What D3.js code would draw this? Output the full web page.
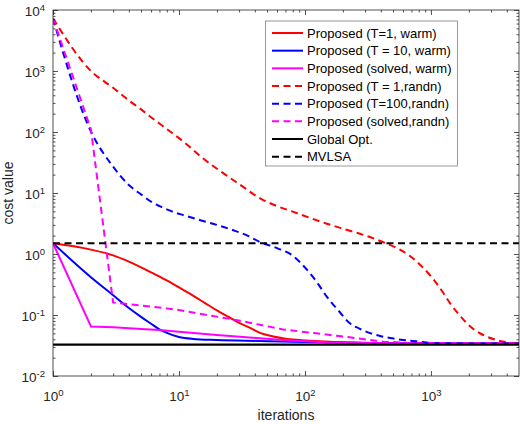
<!DOCTYPE html>
<html>
<head>
<meta charset="utf-8">
<script src="https://cdn.jsdelivr.net/npm/d3@7/dist/d3.min.js"></script>
<style>
  html, body { margin: 0; padding: 0; background: #fff; }
  svg { display: block; font-family: "Liberation Sans", Arial, Helvetica, sans-serif; }
</style>
</head>
<body>
<div id="chart"></div>
<script>
// ---------- data ----------
const xTickValues = [1, 10, 100, 1000];
const yTickValues = [0.01, 0.1, 1, 10, 100, 1000, 10000];
const xDomain = [1, 5000];
const yDomain = [0.01, 10000];

const seriesNames = [
  "Proposed (T=1, warm)",
  "Proposed (T = 10, warm)",
  "Proposed (solved, warm)",
  "Proposed (T = 1,randn)",
  "Proposed (T=100,randn)",
  "Proposed (solved,randn)",
  "Global Opt.",
  "MVLSA"
];

const iterRedWarm = [1,2,3,4,5,6,8,10,13,16,20,25,30,37,44,55,70,90,120,170,250,500,1000,5000];
const costRedWarm = [1.5,1.18,0.95,0.75,0.605,0.50,0.368,0.283,0.206,0.158,0.119,0.092,0.074,0.061,0.051,0.045,0.041,0.039,0.0375,0.0362,0.0353,0.0345,0.0342,0.034];

const iterBlueWarm = [1,2,3,4,5,6,7,8,10,13,20,44,100,300,1000,5000];
const costBlueWarm = [1.5,0.416,0.211,0.13,0.093,0.072,0.058,0.051,0.0435,0.0405,0.039,0.0375,0.036,0.0348,0.0342,0.034];

const iterMagWarm = [1,2,3,5,7,10,20,44,80,150,300,1000,5000];
const costMagWarm = [1.5,0.065,0.063,0.059,0.057,0.053,0.047,0.0416,0.038,0.0358,0.0348,0.0342,0.034];

const iterRedRandn = [1,2,3,4,5,6,8,11,15,20,30,44,60,81,110,149,200,273,350,445,560,680,850,1040,1220,1420,1650,1930,2250,2600,3300,4000,5000];
const costRedRandn = [7300,1000,530,330,235,175,112,68,39,25,14,8.2,6.1,4.9,3.9,3.14,2.6,2.15,1.8,1.48,1.2,0.93,0.62,0.39,0.25,0.155,0.105,0.073,0.056,0.047,0.039,0.0355,0.034];

const iterBlueRandn = [1,2,3,4,5,6,7,8,9,11,15,20,27,35,44,60,81,100,125,149,190,227,270,309,400,476,600,770,1100,5000];
const costBlueRandn = [7300,102,27,13.5,9.5,7.2,6.1,5.4,4.9,4.3,3.55,3.0,2.45,2.0,1.57,1.25,0.92,0.6,0.34,0.2,0.11,0.073,0.06,0.053,0.045,0.0418,0.039,0.037,0.0345,0.034];

const iterMagRandn = [1,2,3,4,5,6,8,10,15,20,30,44,67,123,227,418,770,5000];
const costMagRandn = [7300,110,0.16,0.15,0.143,0.137,0.128,0.121,0.104,0.094,0.081,0.069,0.058,0.05,0.043,0.0366,0.0344,0.034];

const globalOptValue = 0.0328;
const mvlsaValue = 1.5;

// ---------- layout ----------
const W = 520, H = 424;
const L = 53, R = 519, T = 10, B = 376;

const svg = d3.select("#chart").append("svg").attr("width", W).attr("height", H);

const x = d3.scaleLog().domain(xDomain).range([L, R]);
const y = d3.scaleLog().domain(yDomain).range([B, T]);

const axisColor = "#262626";

function minorTicks(domain) {
  const out = [];
  const lo = Math.floor(Math.log10(domain[0])), hi = Math.ceil(Math.log10(domain[1]));
  for (let e = lo; e <= hi; e++) {
    for (let k = 2; k <= 9; k++) {
      const v = k * Math.pow(10, e);
      if (v > domain[0] && v < domain[1]) out.push(v);
    }
  }
  return out;
}
const xMinor = minorTicks(xDomain);
const yMinor = minorTicks(yDomain);

// ---------- series ----------
const colors = ["#ff0000", "#0000ff", "#ff00ff", "#ff0000", "#0000ff", "#ff00ff", "#000000", "#000000"];
const dashed = [false, false, false, true, true, true, false, true];
const smooth = [true, true, false, true, true, false, false, false];
const dashArr = "7,4.5";

const series = [
  d3.zip(iterRedWarm, costRedWarm),
  d3.zip(iterBlueWarm, costBlueWarm),
  d3.zip(iterMagWarm, costMagWarm),
  d3.zip(iterRedRandn, costRedRandn),
  d3.zip(iterBlueRandn, costBlueRandn),
  d3.zip(iterMagRandn, costMagRandn),
  xDomain.map(v => [v, globalOptValue]),
  xDomain.map(v => [v, mvlsaValue])
];

svg.append("defs").append("clipPath").attr("id", "clip")
  .append("rect").attr("x", L).attr("y", T).attr("width", R - L).attr("height", B - T);

const gLines = svg.append("g").attr("clip-path", "url(#clip)");
series.forEach((s, i) => {
  const line = d3.line().x(d => x(d[0])).y(d => y(d[1]))
    .curve(smooth[i] ? d3.curveMonotoneX : d3.curveLinear);
  gLines.append("path")
    .attr("d", line(s))
    .attr("fill", "none")
    .attr("stroke", colors[i])
    .attr("stroke-width", i >= 6 ? 2.2 : 2)
    .attr("stroke-dasharray", dashed[i] ? dashArr : null)
    .attr("stroke-linejoin", "round");
});

// ---------- axes ----------
function tickAxis(gen, transform, values, size) {
  const g = svg.append("g").attr("transform", transform)
    .call(gen.tickValues(values).tickSize(size).tickFormat(""));
  g.select(".domain").remove();
  g.selectAll("line").attr("stroke", axisColor).attr("stroke-width", 0.8);
  return g;
}
tickAxis(d3.axisBottom(x), `translate(0,${B})`, xTickValues, -5);
tickAxis(d3.axisBottom(x), `translate(0,${B})`, xMinor, -2.5);
tickAxis(d3.axisTop(x), `translate(0,${T})`, xTickValues, -5);
tickAxis(d3.axisTop(x), `translate(0,${T})`, xMinor, -2.5);
tickAxis(d3.axisLeft(y), `translate(${L},0)`, yTickValues, -5);
tickAxis(d3.axisLeft(y), `translate(${L},0)`, yMinor, -2.5);
tickAxis(d3.axisRight(y), `translate(${R},0)`, yTickValues, -5);
tickAxis(d3.axisRight(y), `translate(${R},0)`, yMinor, -2.5);

svg.append("rect").attr("x", L).attr("y", T).attr("width", R - L).attr("height", B - T)
  .attr("fill", "none").attr("stroke", axisColor).attr("stroke-width", 0.8);

const xLab = svg.append("g").attr("transform", `translate(0,${B})`)
  .call(d3.axisBottom(x).tickValues(xTickValues).tickSize(0).tickFormat(""));
xLab.select(".domain").remove();
xLab.selectAll(".tick text").each(function(d) {
  const t = d3.select(this).attr("y", 25).attr("dy", null)
    .attr("fill", axisColor).attr("font-size", 13.5).attr("text-anchor", "middle")
    .attr("font-family", "Liberation Sans, Arial, sans-serif");
  t.append("tspan").text("10");
  t.append("tspan").attr("dy", -5.5).attr("font-size", 9.5).text(String(Math.round(Math.log10(d))));
});

const yLab = svg.append("g").attr("transform", `translate(${L},0)`)
  .call(d3.axisLeft(y).tickValues(yTickValues).tickSize(0).tickFormat(""));
yLab.select(".domain").remove();
yLab.selectAll(".tick text").each(function(d) {
  const t = d3.select(this).attr("x", -8).attr("dy", null).attr("y", 5.5)
    .attr("fill", axisColor).attr("font-size", 13.5).attr("text-anchor", "end")
    .attr("font-family", "Liberation Sans, Arial, sans-serif");
  t.append("tspan").text("10");
  t.append("tspan").attr("dy", -5.5).attr("font-size", 9.5).text(String(Math.round(Math.log10(d))));
});

svg.append("text").attr("x", (L + R) / 2).attr("y", 420).attr("text-anchor", "middle")
  .attr("font-size", 14).attr("fill", axisColor).text("iterations");
svg.append("text").attr("transform", `translate(13,${(T + B) / 2}) rotate(-90)`)
  .attr("text-anchor", "middle").attr("font-size", 14).attr("fill", axisColor).text("cost value");

// ---------- legend ----------
const lg = svg.append("g");
lg.append("rect").attr("x", 265.5).attr("y", 21).attr("width", 192).attr("height", 145)
  .attr("fill", "#fff").attr("stroke", "#7f7f7f").attr("stroke-width", 0.8);
seriesNames.forEach((name, i) => {
  const cy = 33 + i * 17.67;
  lg.append("line").attr("x1", 272).attr("x2", 303).attr("y1", cy).attr("y2", cy)
    .attr("stroke", colors[i]).attr("stroke-width", 2)
    .attr("stroke-dasharray", dashed[i] ? dashArr : null);
  lg.append("text").attr("x", 307).attr("y", cy + 4.6).attr("font-size", 13)
    .attr("fill", "#000").text(name);
});
</script>
</body>
</html>
